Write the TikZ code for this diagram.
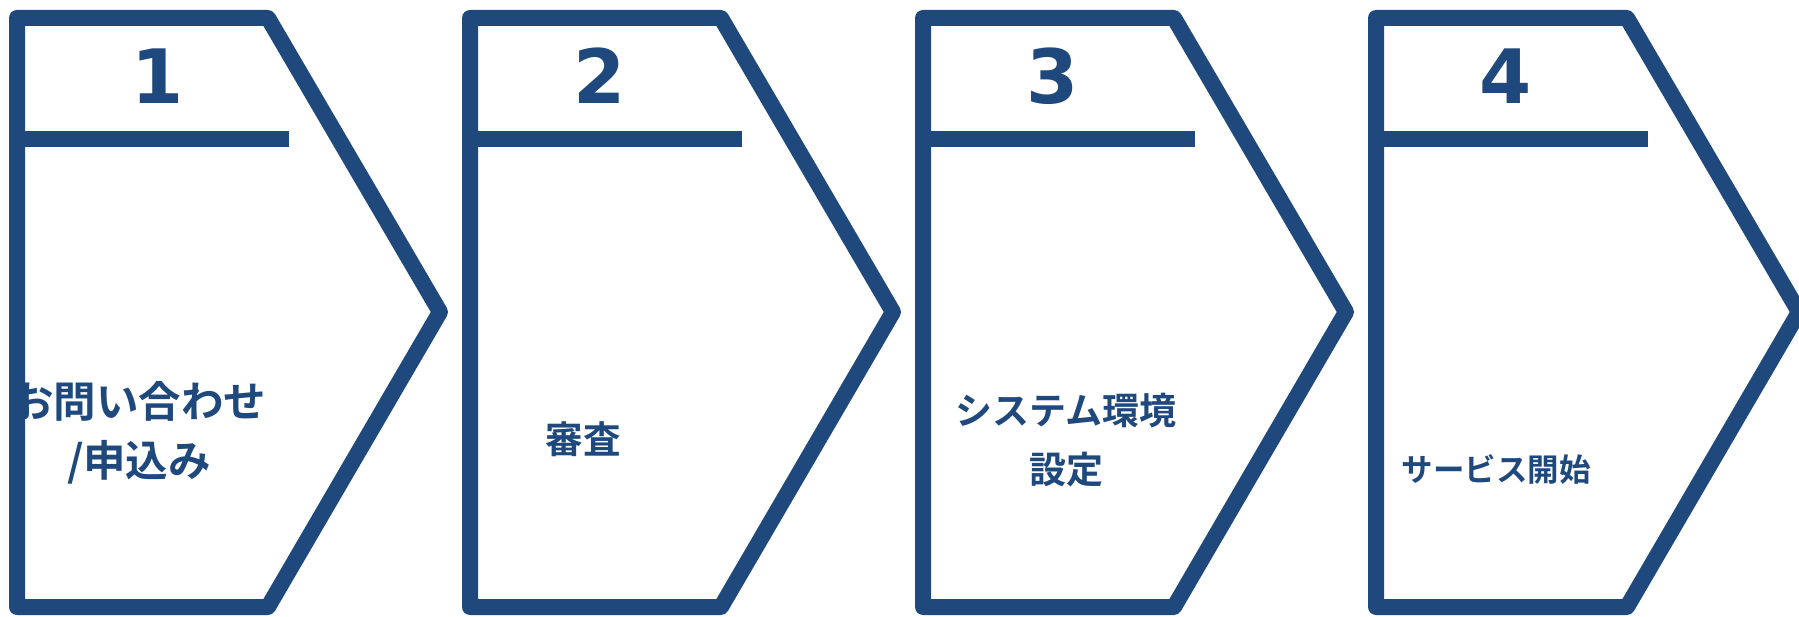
\documentclass[tikz,border=0pt]{standalone}
\usepackage{fontspec}
\newfontfamily\jp{Noto Sans CJK JP}[BoldFont={Noto Sans CJK JP Bold}]
\newfontfamily\dv{DejaVu Sans}
\definecolor{navy}{HTML}{1F497D}
\begin{document}
\begin{tikzpicture}[x=1pt,y=-1pt,
  stepframe/.style={draw=navy,line width=16pt,line join=round},
  divider/.style={draw=navy,line width=16pt,line cap=butt},
  numlabel/.style={text=navy,font=\dv\bfseries\fontsize{75}{75}\selectfont,inner sep=0pt},
  steplabel/.style={text=navy,font=\jp\bfseries,align=center,inner sep=0pt}]
\useasboundingbox (0,0) rectangle (1799,617);
\clip (0,0) rectangle (1799,617);
\foreach \i in {0,1,2,3}{
  \pgfmathsetmacro{\o}{453*\i}
  \draw[stepframe] ({17+\o},18) -- ({268+\o},18) -- ({440+\o},312) -- ({268+\o},607) -- ({17+\o},607) -- cycle;
  \draw[divider] ({9+\o},139) -- ({289+\o},139);
}
\node[numlabel] (n1) at (158,76) {1};
\node[numlabel] (n2) at (600,76) {2};
\node[numlabel] (n3) at (1053,76) {3};
\node[numlabel] (n4) at (1506,76) {4};
\node[steplabel,font=\jp\bfseries\fontsize{42.5}{58.5}\selectfont] (t1) at (139,433) {お問い合わせ\\/申込み};
\node[steplabel,font=\jp\bfseries\fontsize{37.5}{58.5}\selectfont] (t2) at (583,439) {審査};
\node[steplabel,font=\jp\bfseries\fontsize{37}{58.5}\selectfont] (t3) at (1066,440) {システム環境\\設定};
\node[steplabel,font=\jp\bfseries\fontsize{31.5}{40}\selectfont] (t4) at (1496,470) {サービス開始};
\end{tikzpicture}
\end{document}
